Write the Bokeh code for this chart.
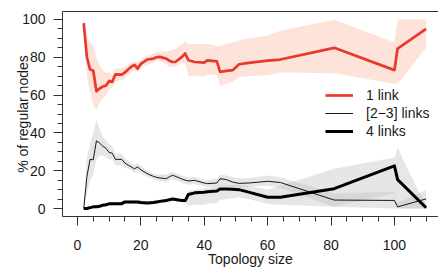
from bokeh.plotting import figure
from bokeh.models import FixedTicker, LinearAxis, Legend, LegendItem, Range1d
from bokeh.embed import file_html
from bokeh.resources import INLINE

# ---- data ----
topology_size = [2, 3, 4, 5, 6, 7, 8, 9, 10, 11, 12, 14, 15, 16, 17, 18, 19, 20, 22, 24,
                 25, 26, 28, 29, 30, 31, 33, 34, 35, 37, 40, 41, 44, 45, 47, 49, 51, 54,
                 60, 64, 81, 100, 101, 110]

one_link = [98, 80, 73.5, 73, 62, 63.5, 64.5, 65, 67.5, 67, 71, 70.8, 72, 73.5, 75, 76, 74,
            76.5, 78.8, 79.3, 80, 80.2, 79.3, 78.2, 77.5, 77.6, 80.2, 82, 78.4, 77.5, 77.2,
            78.4, 77.8, 72.3, 72.8, 73.2, 76.3, 77, 78.2, 78.8, 85, 73.2, 84.6, 95]
one_link_lo = [98, 70, 62, 55, 52, 56, 58, 60, 63, 64, 67, 68, 69, 71, 72, 73, 72, 74, 76, 77,
               78, 78, 76.5, 75, 75, 75, 77, 77, 70, 70, 70, 71, 70.5, 65, 66, 67, 69.5, 70,
               70.5, 72, 71.5, 66, 66, 85]
one_link_hi = [98, 91, 88, 86, 80, 76, 73, 72, 72, 71, 74, 74, 75, 76, 77, 78, 77, 79, 81, 82,
               82.5, 83, 83, 83.5, 84, 84.5, 87, 88.5, 87, 87, 87, 87, 86, 86, 87, 88, 89, 90,
               91.5, 94, 99.8, 88, 100, 100]

two_three_links = [0, 17, 26, 25.8, 35.8, 34.6, 33, 31.9, 29.6, 29.3, 26, 26, 24, 23, 22, 21,
                   22, 20.5, 18.5, 17, 16.5, 16.2, 15.8, 16.8, 17.6, 17, 15.6, 15, 14.6, 14.9,
                   13.5, 13.2, 13.5, 15.8, 15.3, 14, 13.3, 13.5, 14.4, 13.8, 4.5, 4.3, 0.9, 5.1]
two_three_lo = [0, 8, 15, 18, 26, 28, 28, 27, 26, 26, 23, 23, 21.5, 21, 20, 19, 20, 18.5, 17,
                15.5, 15, 14.5, 14, 15, 15.5, 15, 13.5, 13, 12.5, 13, 11.8, 11.5, 11, 12, 12,
                11.5, 11, 11.5, 12, 11, 1, 0, 0, 0]
two_three_hi = [0, 27, 34, 40, 47, 42, 38, 36, 34, 33, 29, 29, 26.5, 25.5, 24, 23, 24, 22.5,
                20, 18.5, 18, 18, 18, 19, 19.5, 19, 17.5, 17, 16.5, 16.8, 15, 15, 16, 18, 17.5,
                16.5, 16, 16, 17.5, 16.5, 8, 9, 3, 10]

four_links = [0, 0, 0.5, 0.9, 1, 1.2, 1.8, 2, 2.5, 2.5, 2.6, 2.6, 3.5, 3.5, 3.5, 3.5, 3.5, 3.2,
              3, 3.2, 3.5, 3.8, 4.2, 4.7, 5, 4.8, 4.2, 4.2, 7.4, 8.3, 8.6, 8.9, 9.3, 10.4, 10.4,
              10.2, 10, 8.7, 6, 6, 10.5, 22.6, 15.3, 0.4]
four_lo = [0, 0, 0, 0, 0, 0.2, 0.8, 1, 1.5, 1.5, 1.6, 1.6, 2.5, 2.5, 2.5, 2.5, 2.5, 2.2, 2, 2.2,
           2.5, 2.8, 3.2, 3.7, 4, 3.8, 3.2, 3, 1.5, 2, 2, 2.5, 3, 4.5, 5, 5.5, 6, 5, 2.5, 2, 1,
           8, 0, 0]
four_hi = [0, 0.8, 1.2, 1.8, 2, 2.2, 2.8, 3, 3.5, 3.5, 3.6, 3.6, 4.5, 4.5, 4.5, 4.5, 4.5, 4.2,
           4, 4.2, 4.5, 4.8, 5.2, 5.7, 6, 5.8, 5.2, 5.5, 9.5, 10, 10.5, 11, 11.5, 12.5, 12.5,
           12.5, 12.5, 12, 10, 12, 21, 27, 32, 1]

x_major_ticks = [0, 20, 40, 60, 80, 100]
x_minor_ticks = [0, 5, 10, 15, 20, 25, 30, 35, 40, 45, 50, 55, 60, 65, 70, 75, 80, 85, 90, 95,
                 100, 105, 110]
y_major_ticks = [0, 20, 40, 60, 80, 100]
y_minor_ticks = [0, 5, 10, 15, 20, 25, 30, 35, 40, 45, 50, 55, 60, 65, 70, 75, 80, 85, 90, 95,
                 100]

labels = ["1 link", "[2\u22123] links", "4 links"]

FONT = "Liberation Sans"
FS = "14px"
TXT = "#1a1a1a"
RED = "#e8392c"

p = figure(width=438, height=269, output_backend="svg", toolbar_location=None,
           x_range=Range1d(-4.7, 113.9), y_range=Range1d(-4.2, 104.2),
           x_axis_location=None, y_axis_location=None,
           min_border_left=62, min_border_right=0, min_border_top=11, min_border_bottom=0)
p.outline_line_color = None
p.grid.grid_line_color = None
p.background_fill_color = "white"
p.border_fill_color = "white"

# bands
p.varea(x=topology_size, y1=one_link_lo, y2=one_link_hi, fill_color="#fdd9cf", fill_alpha=0.75)
p.varea(x=topology_size, y1=two_three_lo, y2=two_three_hi, fill_color="#c4c4c4", fill_alpha=0.42)
p.varea(x=topology_size, y1=four_lo, y2=four_hi, fill_color="#c4c4c4", fill_alpha=0.42)

# lines
r1 = p.line(topology_size, one_link, line_color=RED, line_width=2.7, line_join="round")
r2 = p.line(topology_size, two_three_links, line_color="black", line_width=0.9, line_join="round")
r3 = p.line(topology_size, four_links, line_color="black", line_width=3, line_join="round")

def style_axis(ax):
    ax.axis_line_color = "#333333"
    ax.axis_line_width = 1
    ax.major_tick_line_color = "#333333"
    ax.minor_tick_line_color = "#333333"
    ax.major_tick_in = 0
    ax.minor_tick_in = 0
    ax.major_tick_out = 9
    ax.minor_tick_out = 5
    ax.major_label_text_font = FONT
    ax.major_label_text_font_size = FS
    ax.major_label_text_color = TXT
    ax.axis_label_text_font = FONT
    ax.axis_label_text_font_size = FS
    ax.axis_label_text_font_style = "normal"
    ax.axis_label_text_color = TXT

xaxis = LinearAxis(ticker=FixedTicker(ticks=x_major_ticks, minor_ticks=x_minor_ticks),
                   axis_label="Topology size")
style_axis(xaxis)
xaxis.major_label_standoff = 14
xaxis.axis_label_standoff = -2
p.add_layout(xaxis, "below")

yaxis = LinearAxis(ticker=FixedTicker(ticks=y_major_ticks, minor_ticks=y_minor_ticks),
                   axis_label="% of regular nodes")
style_axis(yaxis)
yaxis.major_label_standoff = 8
yaxis.axis_label_standoff = -12
p.add_layout(yaxis, "left")

top = LinearAxis(ticker=FixedTicker(ticks=[]))
top.axis_line_color = "#333333"
top.major_tick_out = 0
top.minor_tick_out = 0
top.major_label_text_font_size = "0px"
top.major_label_standoff = 0
p.add_layout(top, "above")

legend = Legend(items=[LegendItem(label=labels[0], renderers=[r1]),
                       LegendItem(label=labels[1], renderers=[r2]),
                       LegendItem(label=labels[2], renderers=[r3])],
                location=(263, 76))
legend.border_line_color = None
legend.background_fill_alpha = 0
legend.padding = 0
legend.margin = 0
legend.spacing = 0
legend.glyph_width = 28
legend.glyph_height = 18
legend.label_height = 18
legend.label_standoff = 13
legend.label_text_font = FONT
legend.label_text_font_size = FS
legend.label_text_color = TXT
p.add_layout(legend)

open("out.html", "w").write(file_html(p, INLINE))
